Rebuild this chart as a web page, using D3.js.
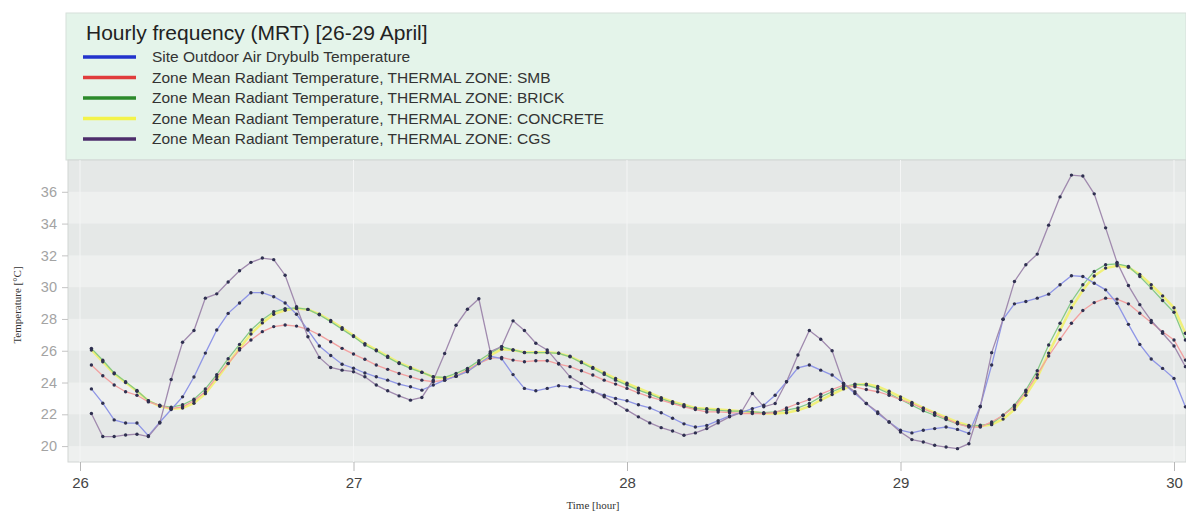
<!DOCTYPE html>
<meta charset="utf-8">
<head>
  <title>Hourly frequency (MRT)</title>
</head>
<style>
  body { margin: 0; background: #fff; }
</style>

<script src="https://d3js.org/d3.v7.min.js"></script>

<div id="chart"></div>

<script>

// hourly values, hour 1 of 26 April ... hour 1 of 30 April
var outdoor = [
  23.60, 22.70, 21.65, 21.45, 21.45, 20.65, 21.50, 22.30, 23.10, 24.35,
  25.85, 27.30, 28.35, 29.00, 29.65, 29.65, 29.40, 29.00, 28.30, 27.30,
  26.30, 25.70, 25.15, 24.90, 24.60, 24.36, 24.15, 23.90, 23.73, 23.52,
  23.84, 24.15, 24.40, 24.68, 25.20, 25.65, 25.50, 24.50, 23.63, 23.48,
  23.63, 23.80, 23.73, 23.58, 23.42, 23.20, 23.00, 22.85, 22.60, 22.40,
  22.10, 21.75, 21.40, 21.20, 21.30, 21.60, 21.90, 22.10, 22.36, 22.57,
  23.20, 24.05, 24.93, 25.10, 24.78, 24.47, 23.94, 23.31, 22.68, 22.05,
  21.52, 21.00, 20.83, 21.00, 21.10, 21.20, 21.05, 20.80, 22.51, 25.10,
  27.98, 28.95, 29.10, 29.31, 29.56, 30.15, 30.72, 30.67, 30.25, 29.83,
  28.99, 27.66, 26.40, 25.48, 24.89, 24.26, 22.47
];
var smb = [
  25.10, 24.43, 23.84, 23.42, 23.20, 22.78, 22.57, 22.36, 22.47, 22.85,
  23.42, 24.36, 25.20, 26.05, 26.68, 27.20, 27.52, 27.62, 27.55, 27.35,
  27.00, 26.57, 26.15, 25.79, 25.46, 25.10, 24.83, 24.57, 24.36, 24.15,
  24.05, 24.15, 24.40, 24.78, 25.20, 25.52, 25.58, 25.41, 25.31, 25.37,
  25.37, 25.16, 25.00, 24.74, 24.47, 24.15, 23.90, 23.63, 23.35, 23.10,
  22.89, 22.68, 22.47, 22.30, 22.15, 22.15, 22.10, 22.05, 22.05, 22.05,
  22.10, 22.40, 22.68, 22.93, 23.27, 23.56, 23.84, 23.73, 23.56, 23.42,
  23.20, 22.93, 22.68, 22.36, 22.05, 21.73, 21.42, 21.20, 21.20, 21.52,
  21.94, 22.47, 23.40, 24.50, 25.67, 26.72, 27.73, 28.53, 29.03, 29.31,
  29.25, 28.95, 28.36, 27.77, 27.20, 26.68, 25.41
];
var brick = [
  26.15, 25.40, 24.60, 24.05, 23.50, 22.85, 22.55, 22.45, 22.60, 22.95,
  23.60, 24.50, 25.50, 26.40, 27.30, 27.95, 28.45, 28.65, 28.70, 28.60,
  28.26, 27.83, 27.35, 26.89, 26.36, 26.00, 25.58, 25.20, 24.89, 24.64,
  24.36, 24.32, 24.57, 24.89, 25.37, 25.84, 26.26, 26.05, 25.88, 25.88,
  25.88, 25.84, 25.62, 25.25, 24.89, 24.51, 24.15, 23.84, 23.52, 23.27,
  22.99, 22.74, 22.53, 22.36, 22.30, 22.25, 22.20, 22.20, 22.15, 22.10,
  22.15, 22.26, 22.40, 22.68, 23.10, 23.42, 23.73, 23.90, 23.84, 23.63,
  23.31, 22.93, 22.57, 22.22, 21.94, 21.67, 21.40, 21.25, 21.31, 21.42,
  21.94, 22.57, 23.52, 24.74, 26.36, 27.73, 29.10, 30.15, 30.99, 31.41,
  31.47, 31.31, 30.67, 29.94, 29.16, 28.42, 26.68
];
var concrete = [
  26.05, 25.30, 24.55, 24.00, 23.45, 22.85, 22.50, 22.35, 22.40, 22.70,
  23.30, 24.20, 25.20, 26.15, 27.05, 27.75, 28.30, 28.55, 28.65, 28.60,
  28.30, 27.90, 27.45, 26.95, 26.45, 26.05, 25.65, 25.25, 24.95, 24.65,
  24.35, 24.25, 24.40, 24.75, 25.20, 25.70, 26.10, 26.05, 25.90, 25.90,
  25.90, 25.85, 25.65, 25.30, 24.95, 24.60, 24.25, 23.95, 23.65, 23.35,
  23.05, 22.80, 22.60, 22.40, 22.35, 22.30, 22.25, 22.20, 22.15, 22.05,
  22.05, 22.10, 22.25, 22.50, 22.90, 23.25, 23.60, 23.85, 23.90, 23.75,
  23.45, 23.10, 22.75, 22.40, 22.10, 21.80, 21.50, 21.30, 21.25, 21.35,
  21.70, 22.30, 23.20, 24.30, 25.85, 27.30, 28.70, 29.80, 30.70, 31.20,
  31.35, 31.25, 30.80, 30.15, 29.45, 28.70, 27.10
];
var cgs = [
  22.05, 20.60, 20.60, 20.70, 20.75, 20.60, 21.45, 24.19, 26.53, 27.27,
  29.31, 29.58, 30.32, 31.03, 31.56, 31.83, 31.73, 30.75, 28.77, 26.88,
  25.58, 24.95, 24.78, 24.68, 24.36, 23.84, 23.48, 23.16, 22.89, 23.06,
  24.15, 25.83, 27.60, 28.61, 29.27, 25.94, 26.26, 27.88, 27.27, 26.47,
  26.05, 25.20, 24.36, 23.94, 23.48, 23.10, 22.68, 22.26, 21.84, 21.46,
  21.16, 20.95, 20.68, 20.83, 21.10, 21.46, 21.84, 22.10, 23.31, 22.47,
  22.68, 24.05, 25.73, 27.27, 26.72, 26.00, 23.94, 23.42, 22.68, 22.15,
  21.52, 20.89, 20.41, 20.26, 20.05, 19.94, 19.84, 20.15, 22.47, 25.88,
  27.98, 30.36, 31.41, 32.08, 33.90, 35.68, 37.05, 36.99, 35.87, 33.73,
  31.56, 30.10, 28.90, 27.90, 27.10, 26.30, 25.00
];

var seriesNames = [
  "Site Outdoor Air Drybulb Temperature",
  "Zone Mean Radiant Temperature, THERMAL ZONE: SMB",
  "Zone Mean Radiant Temperature, THERMAL ZONE: BRICK",
  "Zone Mean Radiant Temperature, THERMAL ZONE: CONCRETE",
  "Zone Mean Radiant Temperature, THERMAL ZONE: CGS"
];
var dayTicks = [26, 27, 28, 29, 30];
var tempTicks = [20, 22, 24, 26, 28, 30, 32, 34, 36];
var hours = d3.range(1, outdoor.length + 1);   // hour index from 26 April 00:00

var swatch = ["#2233cc", "#e03c3c", "#2b8a2b", "#f3f34a", "#4d2d6b"];
var lineCol = ["#8f96e6", "#f2a0a0", "#86c986", "#f0f07a", "#a08aae"];
var allSeries = [outdoor, smb, brick, concrete, cgs];

var W = 1186, H = 513;
var plot = {left: 68, right: 1186, top: 160, bottom: 462};

var svg = d3.select("#chart").append("svg")
  .attr("width", W).attr("height", H)
  .style("font-family", "Arial, 'Liberation Sans', sans-serif");

var x = d3.scaleLinear().domain([26, 30]).range([80, 1174]);
var y = d3.scaleLinear().domain([19, 38]).range([plot.bottom, plot.top]);

// legend panel
svg.append("rect")
  .attr("x", 66).attr("y", 13)
  .attr("width", W - 66).attr("height", plot.top - 13)
  .attr("fill", "#e4f4ea").attr("stroke", "#d6dfda");

svg.append("text")
  .attr("x", 86).attr("y", 40)
  .style("font-size", "21px").style("fill", "#222")
  .text("Hourly frequency (MRT) [26-29 April]");

var leg = svg.append("g").selectAll("g")
  .data(seriesNames).enter().append("g")
  .attr("transform", function(d, i) { return "translate(0," + (57 + i * 20.5) + ")"; });
leg.append("line")
  .attr("x1", 83).attr("x2", 136)
  .attr("stroke", function(d, i) { return swatch[i]; })
  .attr("stroke-width", 3.5);
leg.append("text")
  .attr("x", 152).attr("y", 5)
  .style("font-size", "15.5px").style("fill", "#333")
  .text(function(d) { return d; });

// plot background with horizontal bands
svg.append("rect")
  .attr("x", plot.left).attr("y", plot.top)
  .attr("width", plot.right - plot.left).attr("height", plot.bottom - plot.top)
  .attr("fill", "#eef0ef");
svg.append("g").selectAll("rect")
  .data(d3.range(20, 38, 4)).enter().append("rect")
  .attr("x", plot.left)
  .attr("y", function(d) { return y(d + 2); })
  .attr("width", plot.right - plot.left)
  .attr("height", function(d) { return y(d) - y(d + 2); })
  .attr("fill", "#e5e8e7");
svg.append("rect")
  .attr("x", plot.left).attr("y", plot.top)
  .attr("width", plot.right - plot.left).attr("height", plot.bottom - plot.top)
  .attr("fill", "none").attr("stroke", "#d2d6d4");

// faint day gridlines
svg.append("g").selectAll("line")
  .data(dayTicks).enter().append("line")
  .attr("x1", function(d) { return x(d); }).attr("x2", function(d) { return x(d); })
  .attr("y1", plot.top).attr("y2", plot.bottom)
  .attr("stroke", "#f4f5f5").attr("stroke-width", 1);

// y axis
var yAxis = svg.append("g")
  .attr("transform", "translate(" + plot.left + ",0)")
  .call(d3.axisLeft(y).tickValues(tempTicks).tickSize(6).tickPadding(5));
yAxis.select(".domain").remove();
yAxis.selectAll(".tick line").attr("stroke", "#c4c4c4");
yAxis.selectAll(".tick text")
  .style("font-size", "14.5px").style("fill", "#a3a3a3")
  .style("font-family", "Arial, 'Liberation Sans', sans-serif");

// x axis
var xAxis = svg.append("g")
  .attr("transform", "translate(0," + plot.bottom + ")")
  .call(d3.axisBottom(x).tickValues(dayTicks).tickFormat(d3.format("d")).tickSize(9).tickPadding(6));
xAxis.select(".domain").remove();
xAxis.selectAll(".tick line").attr("stroke", "#b8b8b8");
xAxis.selectAll(".tick text")
  .style("font-size", "15px").style("fill", "#444")
  .style("font-family", "Arial, 'Liberation Sans', sans-serif");

svg.append("text")
  .attr("x", 593).attr("y", 509)
  .attr("text-anchor", "middle")
  .style("font-family", "'Liberation Serif', 'Times New Roman', serif")
  .style("font-size", "11px").style("fill", "#333")
  .text("Time [hour]");

svg.append("text")
  .attr("transform", "translate(21,305) rotate(-90)")
  .attr("text-anchor", "middle")
  .style("font-family", "'Liberation Serif', 'Times New Roman', serif")
  .style("font-size", "11px").style("fill", "#333")
  .text("Temperature [°C]");

// series lines and markers
svg.append("clipPath").attr("id", "clip")
  .append("rect")
  .attr("x", plot.left).attr("y", plot.top)
  .attr("width", plot.right - plot.left).attr("height", plot.bottom - plot.top);

var line = d3.line()
  .x(function(d, i) { return x(26 + hours[i] / 24); })
  .y(function(d) { return y(d); });

var drawOrder = [3, 2, 1, 0, 4];
var gLines = svg.append("g").attr("clip-path", "url(#clip)");
drawOrder.forEach(function(k) {
  gLines.append("path")
    .datum(allSeries[k])
    .attr("fill", "none")
    .attr("stroke", lineCol[k])
    .attr("stroke-width", k === 3 ? 2.5 : 1.3)
    .attr("d", line);
});
drawOrder.forEach(function(k) {
  gLines.append("g").selectAll("circle")
    .data(allSeries[k]).enter().append("circle")
    .attr("cx", function(d, i) { return x(26 + hours[i] / 24); })
    .attr("cy", function(d) { return y(d); })
    .attr("r", 1.7)
    .attr("fill", "#2f3050");
});

</script>
